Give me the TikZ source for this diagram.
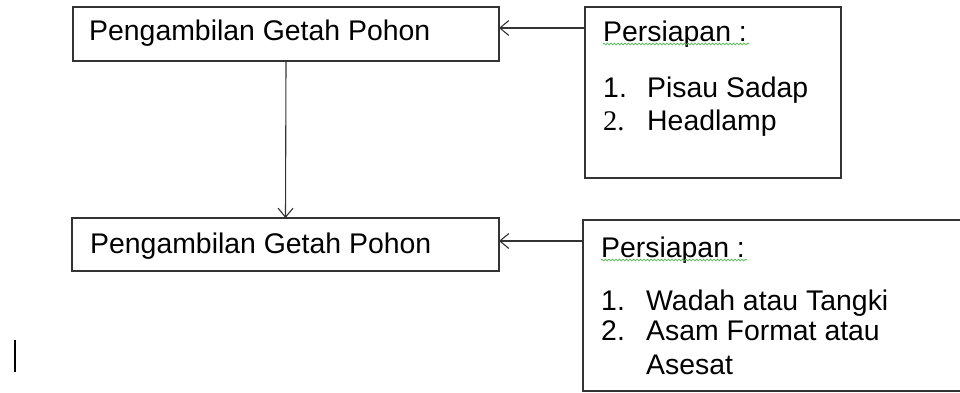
\documentclass[tikz,border=0pt]{standalone}
\usepackage{fontspec}
\setmainfont{Liberation Sans}
\newfontfamily\serifnum{Liberation Serif}
\usetikzlibrary{arrows.meta,decorations.pathmorphing}
\begin{document}
\begin{tikzpicture}[x=1pt,y=-1pt,
  box/.style={draw=black!80,line width=1.4pt,anchor=north west,inner sep=0pt,outer sep=0pt},
  arr/.style={draw=black!80,line width=1.1pt,-{Straight Barb[length=9pt,width=15pt,line width=1.1pt]}},
  txt/.style={anchor=base west,inner sep=0pt,font=\fontsize{28.4}{34}\selectfont},
  spell/.style={draw=green!60!black!70,line width=0.7pt,decorate,decoration={snake,amplitude=0.9pt,segment length=3.5pt}}]
\clip (0,0) rectangle (960,392);
\useasboundingbox (0,0) rectangle (960,392);
% boxes
\node[box,minimum width=426pt,minimum height=54pt] (b1) at (73,7) {};
\node[box,minimum width=256pt,minimum height=171pt] (b2) at (585,7) {};
\node[box,minimum width=427pt,minimum height=53pt] (b3) at (72,218) {};
\node[box,minimum width=400pt,minimum height=171pt] (b4) at (583,220) {};
% texts
\node[txt] (t1) at (89,40) {Pengambilan Getah Pohon};
\node[txt] (t3) at (90,253) {Pengambilan Getah Pohon};
\node[txt] (p1) at (603,41) {Persiapan :};
\node[txt] (p1a) at (603,97) {1.};
\node[txt] (p1b) at (647,97) {Pisau Sadap};
\node[txt] (p1c) at (603,130) {\serifnum 2.};
\node[txt] (p1d) at (647,130) {Headlamp};
\node[txt] (p2) at (601,257) {Persiapan :};
\node[txt] (p2a) at (601,310) {1.};
\node[txt] (p2b) at (646,310) {Wadah atau Tangki};
\node[txt] (p2c) at (601,340) {2.};
\node[txt] (p2d) at (646,340) {Asam Format atau};
\node[txt] (p2e) at (646,374) {Asesat};
% spelling underlines
\coordinate (s1a) at (603,44); \coordinate (s1b) at (749,44);
\coordinate (s2a) at (601,260); \coordinate (s2b) at (747,260);
\draw[spell] (s1a) -- (s1b);
\draw[spell] (s2a) -- (s2b);
% connectors
\draw[arr] (b2.west |- 0,28) -- (b1.east |- 0,28);
\draw[arr] (b4.west |- 0,241) -- (b3.east |- 0,241);
\draw[arr] (b1.south) -- (b3.north);
% text cursor
\coordinate (c1) at (15,340); \coordinate (c2) at (15,372);
\draw[line width=1.6pt] (c1) -- (c2);
\end{tikzpicture}
\end{document}
